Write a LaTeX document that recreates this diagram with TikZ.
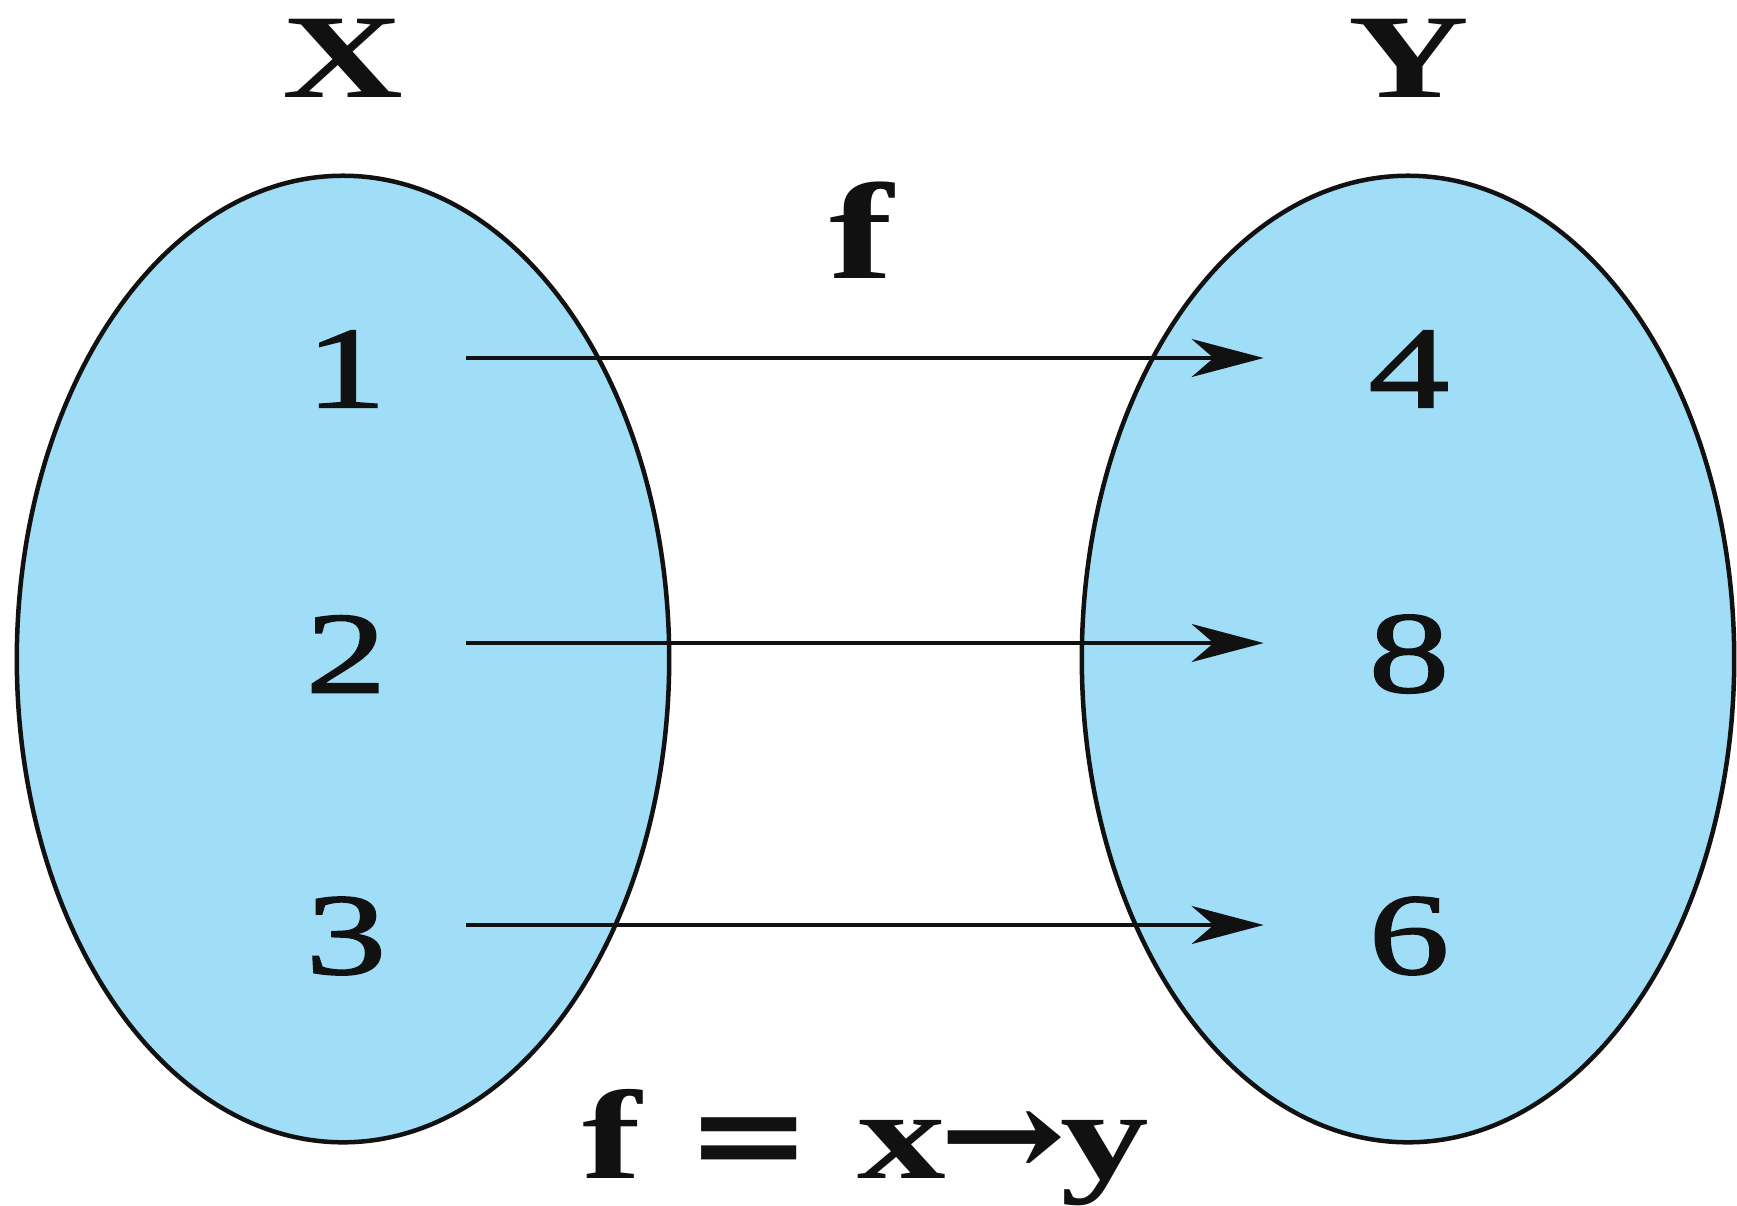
\documentclass[tikz,border=0pt]{standalone}
\usepackage{fontspec}
\setmainfont{Liberation Serif}[FakeStretch=1.4]
\newfontfamily\numfont{Liberation Serif}[FakeStretch=1.4,FakeBold=1.5]
\newfontfamily\symfont{DejaVu Serif}[FakeStretch=1.2]
\usepackage{tikz}
\usetikzlibrary{positioning,arrows.meta,shapes.geometric}
\definecolor{setfill}{HTML}{A0DEF7}
\definecolor{ink}{HTML}{111111}

\begin{document}
\begin{tikzpicture}[x=0.01cm,y=-0.01cm,>={Stealth[length=0.72cm,width=0.38cm,inset=0.22cm]},
    setbox/.style={ellipse, draw=ink, fill=setfill, line width=0.045cm, inner sep=0pt,
      minimum width=6.52cm, minimum height=9.66cm},
    num/.style={font=\numfont\fontsize{33}{33}\selectfont, text=ink, inner sep=0pt},
    lbl/.style={font=\bfseries\fontsize{34}{34}\selectfont, text=ink, inner sep=0pt}]
  \useasboundingbox (0,0) rectangle (1737,1205);
  \node[setbox] (setX) at (343,659) {};
  \node[setbox] (setY) at (1408,659) {};
  \node[lbl] (lblX) at (343,58) {X};
  \node[lbl] (lblY) at (1409,58) {Y};
  \node[lbl, font=\bfseries\fontsize{39}{39}\selectfont] (lblf) at (861,230) {f};
  \node[lbl, font=\bfseries\fontsize{36}{36}\selectfont, anchor=base] (rule) at (866,1178)
    {f {\symfont=} x{\symfont\kern-0.05em→\kern-0.05em}y};
  \foreach \n/\y in {1/369,2/654,3/936} \node[num] (a\n) at (346,\y) {\n};
  \foreach \n/\y in {4/369,8/654,6/936} \node[num] (b\n) at (1409,\y) {\n};
  \foreach \i/\j in {1/4,2/8,3/6}
    \draw[->, ink, line width=0.035cm, shorten <=0.79cm, shorten >=1.04cm]
      ([yshift=0.11cm]a\i.east) -- ([yshift=0.11cm]b\j.west);
\end{tikzpicture}
\end{document}
